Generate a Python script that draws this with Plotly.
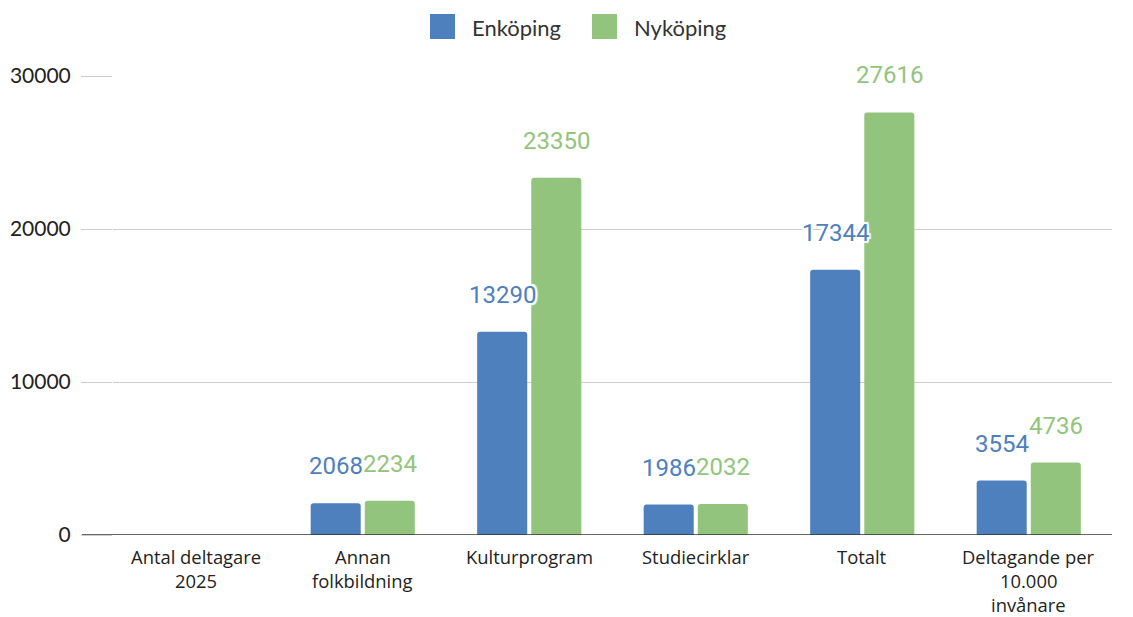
import plotly.graph_objects as go

categories = [
    "Antal deltagare<br>2025",
    "Annan<br>folkbildning",
    "Kulturprogram",
    "Studiecirklar",
    "Totalt",
    "Deltagande per<br>10.000<br>invånare",
]
enkoping = [None, 2068, 13290, 1986, 17344, 3554]
nykoping = [None, 2234, 23350, 2032, 27616, 4736]
y_ticks = [0, 10000, 20000, 30000]
series_names = ["Enköping", "Nyköping"]

BLUE = "#4e80bd"
GREEN = "#93c47d"
TEXT_FONT = "Lato"
HALO = ("2px 0 1px white, -2px 0 1px white, 0 2px 1px white, 0 -2px 1px white, "
        "2px 2px 1px white, -2px -2px 1px white, 2px -2px 1px white, -2px 2px 1px white")

fig = go.Figure()
for name, vals, color in [(series_names[0], enkoping, BLUE), (series_names[1], nykoping, GREEN)]:
    fig.add_trace(go.Bar(name=name, x=categories, y=vals, showlegend=False,
                         marker=dict(color=color, cornerradius=3, line=dict(width=0))))

# value labels floating above each bar, with a white halo
annotations = []
for vals, color, shift in [(enkoping, BLUE, -27), (nykoping, GREEN, 27)]:
    for cat, v in zip(categories, vals):
        if v is None:
            continue
        annotations.append(dict(
            x=cat, y=v, xref="x", yref="y", text=str(v), showarrow=False,
            xshift=shift, yshift=37, yanchor="middle", borderpad=0,
            font=dict(family="Roboto", size=24, color=color, shadow=HALO),
        ))

# category labels, one line at a time for a tight line pitch
for cat in categories:
    for i, line in enumerate(cat.split("<br>")):
        annotations.append(dict(
            x=cat, y=0, xref="x", yref="y", text=line, showarrow=False,
            xanchor="center", yanchor="middle", yshift=-21 - 24 * i, borderpad=0,
            font=dict(family="Open Sans", size=18.4, color="#222222"),
        ))

# legend: large swatches with labels, centred above the plot
shapes = []
for (sq_x, txt_x), name, color in zip([(317, 357), (479, 519)], series_names, [BLUE, GREEN]):
    shapes.append(dict(type="rect", xref="paper", yref="paper",
                       xsizemode="pixel", ysizemode="pixel", xanchor=0, yanchor=1,
                       x0=sq_x, x1=sq_x + 25, y0=37, y1=62,
                       fillcolor=color, line=dict(width=0)))
    annotations.append(dict(x=0, y=1, xref="paper", yref="paper", text=name,
                            showarrow=False, xanchor="left", yanchor="middle",
                            xshift=txt_x, yshift=49,
                            font=dict(family=TEXT_FONT, size=22, color="#333333")))

# baseline, running out under the tick labels like the gridlines
shapes.append(dict(type="line", xref="paper", yref="y", x0=-31 / 999, x1=1, y0=0, y1=0,
                   line=dict(color="#333333", width=1.5)))

fig.update_layout(
    width=1133, height=617,
    margin=dict(l=113, r=21, t=76, b=82),
    paper_bgcolor="white", plot_bgcolor="white",
    barmode="group", bargap=0.35, bargroupgap=0.075,
    font=dict(family=TEXT_FONT, size=22, color="#222222"),
    showlegend=False,
    annotations=annotations,
    shapes=shapes,
)
fig.update_xaxes(showline=False, automargin=False, ticks="", showticklabels=False)
fig.update_yaxes(range=[0, 30000], tickvals=y_ticks, ticktext=[str(t) for t in y_ticks],
                 showgrid=True, gridcolor="#cccccc", gridwidth=1, zeroline=False,
                 ticks="outside", ticklen=31, tickcolor="#cccccc", tickwidth=1,
                 ticklabelstandoff=6, automargin=False,
                 tickfont=dict(family=TEXT_FONT, size=21, color="#222222"))

fig.write_html("out.html")
